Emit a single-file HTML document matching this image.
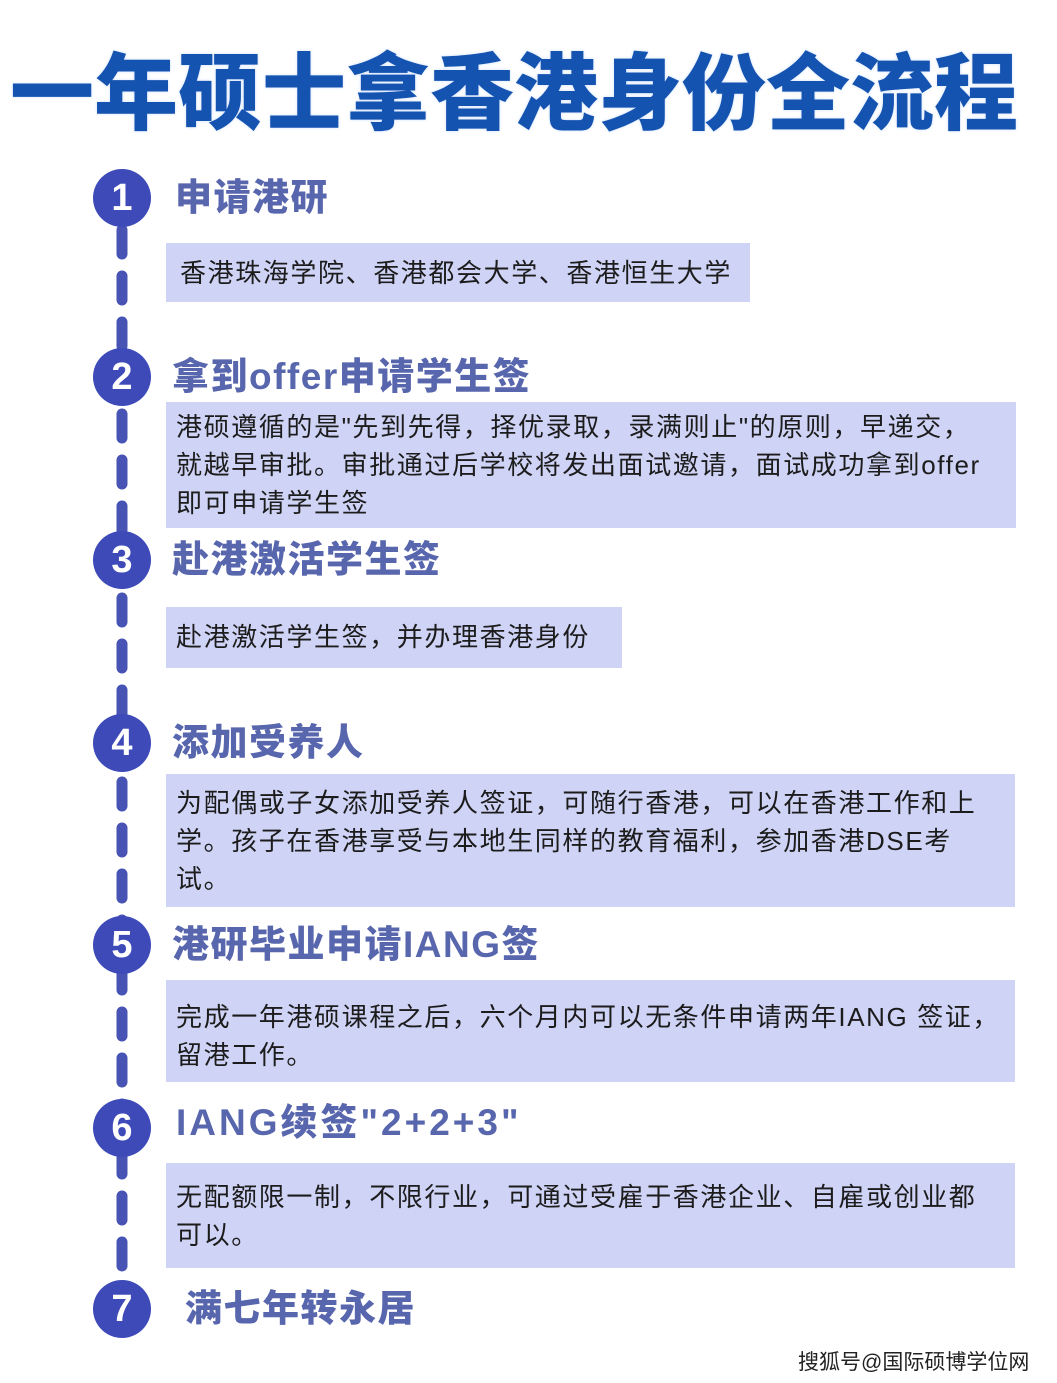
<!DOCTYPE html>
<html><head><meta charset="utf-8"><style>
body{margin:0;width:1057px;height:1383px;background:#fff;position:relative;overflow:hidden;font-family:"Liberation Sans","Noto Sans CJK SC",sans-serif}
.t{position:absolute;left:10px;top:44px;font-size:84px;font-weight:900;letter-spacing:0px;color:#1553b0;line-height:100px;white-space:nowrap;text-shadow:0 0 3px #cfe0ff}
.c{position:absolute;width:58px;height:58px;border-radius:50%;background:#3d4ab8;color:#fff;font-weight:bold;font-size:38px;line-height:58px;text-align:center;left:93px}
.h{position:absolute;font-size:37px;font-weight:900;color:#5866ad;line-height:44px;white-space:nowrap;letter-spacing:1.5px}
.b{position:absolute;left:166px;background:#cfd3f5;font-size:26px;letter-spacing:1.6px;color:#1c1c1c;line-height:38px;padding:0 10px;box-sizing:border-box;white-space:nowrap}
</style></head><body>
<div class="t">一年硕士拿香港身份全流程</div>
<svg style="position:absolute;left:0;top:0" width="200" height="1383"><line x1="122" y1="230" x2="122" y2="1290" stroke="#4754b3" stroke-width="11" stroke-linecap="round" stroke-dasharray="24 22"/></svg>
<div class="c" style="top:169px">1</div>
<div class="c" style="top:348px">2</div>
<div class="c" style="top:531px">3</div>
<div class="c" style="top:714px">4</div>
<div class="c" style="top:916px">5</div>
<div class="c" style="top:1099px">6</div>
<div class="c" style="top:1280px">7</div>
<div class="h" style="left:175px;top:176px">申请港研</div>
<div class="h" style="left:172px;top:355px">拿到offer申请学生签</div>
<div class="h" style="left:172px;top:538px">赴港激活学生签</div>
<div class="h" style="left:172px;top:721px">添加受养人</div>
<div class="h" style="left:172px;top:923px">港研毕业申请IANG签</div>
<div class="h" style="left:176px;top:1101px;letter-spacing:3px">IANG续签"2+2+3"</div>
<div class="h" style="left:185px;top:1287px">满七年转永居</div>
<div class="b" style="top:243px;width:584px;height:59px;padding-top:11px;padding-left:14px">香港珠海学院、香港都会大学、香港恒生大学</div>
<div class="b" style="top:402px;width:850px;height:126px;padding-top:6px">港硕遵循的是"先到先得，择优录取，录满则止"的原则，早递交，<br>就越早审批。审批通过后学校将发出面试邀请，面试成功拿到offer<br>即可申请学生签</div>
<div class="b" style="top:607px;width:456px;height:61px;padding-top:11px">赴港激活学生签，并办理香港身份</div>
<div class="b" style="top:774px;width:849px;height:133px;padding-top:10px">为配偶或子女添加受养人签证，可随行香港，可以在香港工作和上<br>学。孩子在香港享受与本地生同样的教育福利，参加香港DSE考<br>试。</div>
<div class="b" style="top:980px;width:849px;height:102px;padding-top:18px">完成一年港硕课程之后，六个月内可以无条件申请两年IANG 签证，<br>留港工作。</div>
<div class="b" style="top:1163px;width:849px;height:105px;padding-top:15px">无配额限一制，不限行业，可通过受雇于香港企业、自雇或创业都<br>可以。</div>
<div style="position:absolute;left:798px;top:1346px;font-size:21px;color:#222;white-space:nowrap">搜狐号@国际硕博学位网</div>
</body></html>
